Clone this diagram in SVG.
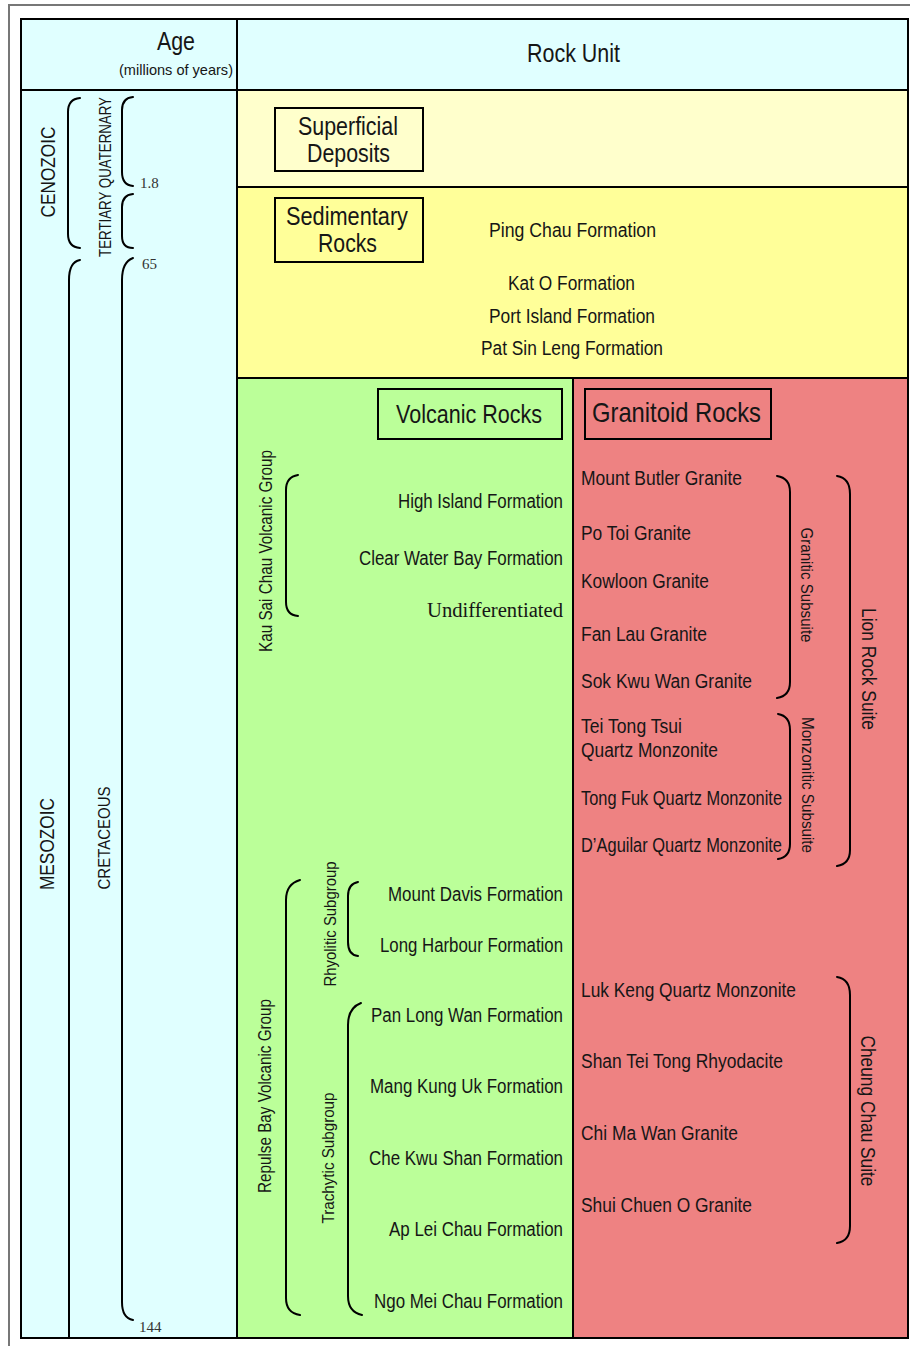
<svg xmlns="http://www.w3.org/2000/svg" width="910" height="1346" viewBox="0 0 910 1346">
<style>
.t{font-family:"Liberation Sans Narrow","Liberation Sans",Arial,sans-serif;font-stretch:condensed;fill:#161616;}
.s{font-family:"Liberation Serif","Times New Roman",serif;fill:#333;}
.grid{stroke:#000;stroke-width:2;fill:none;}
.box{stroke:#000;stroke-width:2;fill:none;}
.br{stroke:#000;stroke-width:2;fill:none;stroke-linecap:round;}
</style>
<rect x="0" y="0" width="910" height="1346" fill="#fff"/>
<path d="M9,1346 V5 H910" stroke="#777" stroke-width="2" fill="none"/>

<g id="backgrounds">
<rect x="21" y="19" width="887" height="71" fill="#E0FFFF"/>
<rect x="21" y="90" width="216" height="1248" fill="#E0FFFF"/>
<rect x="237" y="90" width="671" height="97" fill="#FFFFCC"/>
<rect x="237" y="187" width="671" height="191" fill="#FFFF99"/>
<rect x="237" y="378" width="336" height="960" fill="#BBFF99"/>
<rect x="573" y="378" width="335" height="960" fill="#EE8282"/>
</g>

<g id="grid">
<rect class="grid" x="21" y="19" width="887" height="1319"/>
<line class="grid" x1="21" y1="90" x2="908" y2="90"/>
<line class="grid" x1="237" y1="19" x2="237" y2="1338"/>
<line class="grid" x1="237" y1="187" x2="908" y2="187"/>
<line class="grid" x1="237" y1="378" x2="908" y2="378"/>
<line class="grid" x1="573" y1="378" x2="573" y2="1338"/>
</g>

<g id="header">
<text class="t" x="157" y="50" font-size="25" textLength="38" lengthAdjust="spacingAndGlyphs">Age</text>
<text class="t" x="119" y="75" font-size="15" textLength="114" lengthAdjust="spacingAndGlyphs">(millions of years)</text>
<text class="t" x="527" y="62" font-size="25" textLength="93" lengthAdjust="spacingAndGlyphs">Rock Unit</text>
</g>

<g id="age-scale">
<text class="t" transform="translate(48,172) rotate(-90)" x="0" y="7" font-size="20" text-anchor="middle" textLength="91" lengthAdjust="spacingAndGlyphs">CENOZOIC</text>
<text class="t" transform="translate(105,177) rotate(-90)" x="0" y="6" font-size="17" text-anchor="middle" textLength="160" lengthAdjust="spacingAndGlyphs">TERTIARY QUATERNARY</text>
<text class="t" transform="translate(47,844) rotate(-90)" x="0" y="7" font-size="20" text-anchor="middle" textLength="92" lengthAdjust="spacingAndGlyphs">MESOZOIC</text>
<text class="t" transform="translate(104,838) rotate(-90)" x="0" y="6" font-size="17" text-anchor="middle" textLength="103" lengthAdjust="spacingAndGlyphs">CRETACEOUS</text>
<text class="s" x="140" y="188" font-size="15">1.8</text>
<text class="s" x="142" y="269" font-size="15">65</text>
<text class="s" x="139" y="1332" font-size="15">144</text>
</g>

<g id="superficial-deposits">
<rect class="box" x="275" y="108" width="148" height="63"/>
<text class="t" x="298" y="135" font-size="25" textLength="100" lengthAdjust="spacingAndGlyphs">Superficial</text>
<text class="t" x="307" y="162" font-size="25" textLength="83" lengthAdjust="spacingAndGlyphs">Deposits</text>
</g>

<g id="sedimentary-rocks">
<rect class="box" x="275" y="198" width="148" height="64"/>
<text class="t" x="286" y="225" font-size="25" textLength="122" lengthAdjust="spacingAndGlyphs">Sedimentary</text>
<text class="t" x="318" y="252" font-size="25" textLength="59" lengthAdjust="spacingAndGlyphs">Rocks</text>
<text class="t" x="489" y="237" font-size="20" textLength="167" lengthAdjust="spacingAndGlyphs">Ping Chau Formation</text>
<text class="t" x="508" y="290" font-size="20" textLength="127" lengthAdjust="spacingAndGlyphs">Kat O Formation</text>
<text class="t" x="489" y="323" font-size="20" textLength="166" lengthAdjust="spacingAndGlyphs">Port Island Formation</text>
<text class="t" x="481" y="355" font-size="20" textLength="182" lengthAdjust="spacingAndGlyphs">Pat Sin Leng Formation</text>
</g>

<g id="volcanic-rocks">
<rect class="box" x="378" y="389" width="184" height="50"/>
<text class="t" x="396" y="423" font-size="26" textLength="146" lengthAdjust="spacingAndGlyphs">Volcanic Rocks</text>
<text class="t" transform="translate(266,551) rotate(-90)" x="0" y="6" font-size="18" text-anchor="middle" textLength="202" lengthAdjust="spacingAndGlyphs">Kau Sai Chau Volcanic Group</text>
<text class="t" x="398" y="508" font-size="20" textLength="165" lengthAdjust="spacingAndGlyphs">High Island Formation</text>
<text class="t" x="359" y="565" font-size="20" textLength="204" lengthAdjust="spacingAndGlyphs">Clear Water Bay Formation</text>
<text class="s" x="427" y="617" font-size="20" fill="#161616" style="fill:#161616" textLength="136" lengthAdjust="spacingAndGlyphs">Undifferentiated</text>
<text class="t" transform="translate(265,1096) rotate(-90)" x="0" y="6" font-size="18" text-anchor="middle" textLength="194" lengthAdjust="spacingAndGlyphs">Repulse Bay Volcanic Group</text>
<text class="t" transform="translate(330,924) rotate(-90)" x="0" y="6" font-size="17" text-anchor="middle" textLength="125" lengthAdjust="spacingAndGlyphs">Rhyolitic Subgroup</text>
<text class="t" transform="translate(328,1158) rotate(-90)" x="0" y="6" font-size="17" text-anchor="middle" textLength="131" lengthAdjust="spacingAndGlyphs">Trachytic Subgroup</text>
<text class="t" x="388" y="901" font-size="20" textLength="175" lengthAdjust="spacingAndGlyphs">Mount Davis Formation</text>
<text class="t" x="380" y="952" font-size="20" textLength="183" lengthAdjust="spacingAndGlyphs">Long Harbour Formation</text>
<text class="t" x="371" y="1022" font-size="20" textLength="192" lengthAdjust="spacingAndGlyphs">Pan Long Wan Formation</text>
<text class="t" x="370" y="1093" font-size="20" textLength="193" lengthAdjust="spacingAndGlyphs">Mang Kung Uk Formation</text>
<text class="t" x="369" y="1165" font-size="20" textLength="194" lengthAdjust="spacingAndGlyphs">Che Kwu Shan Formation</text>
<text class="t" x="389" y="1236" font-size="20" textLength="174" lengthAdjust="spacingAndGlyphs">Ap Lei Chau Formation</text>
<text class="t" x="374" y="1308" font-size="20" textLength="189" lengthAdjust="spacingAndGlyphs">Ngo Mei Chau Formation</text>
</g>

<g id="granitoid-rocks">
<rect class="box" x="585" y="389" width="186" height="50"/>
<text class="t" x="592" y="422" font-size="28" textLength="169" lengthAdjust="spacingAndGlyphs">Granitoid Rocks</text>
<text class="t" x="581" y="485" font-size="20" textLength="161" lengthAdjust="spacingAndGlyphs">Mount Butler Granite</text>
<text class="t" x="581" y="540" font-size="20" textLength="110" lengthAdjust="spacingAndGlyphs">Po Toi Granite</text>
<text class="t" x="581" y="588" font-size="20" textLength="128" lengthAdjust="spacingAndGlyphs">Kowloon Granite</text>
<text class="t" x="581" y="641" font-size="20" textLength="126" lengthAdjust="spacingAndGlyphs">Fan Lau Granite</text>
<text class="t" x="581" y="688" font-size="20" textLength="171" lengthAdjust="spacingAndGlyphs">Sok Kwu Wan Granite</text>
<text class="t" x="581" y="733" font-size="20" textLength="101" lengthAdjust="spacingAndGlyphs">Tei Tong Tsui</text>
<text class="t" x="581" y="757" font-size="20" textLength="137" lengthAdjust="spacingAndGlyphs">Quartz Monzonite</text>
<text class="t" x="581" y="805" font-size="20" textLength="201" lengthAdjust="spacingAndGlyphs">Tong Fuk Quartz Monzonite</text>
<text class="t" x="581" y="852" font-size="20" textLength="201" lengthAdjust="spacingAndGlyphs">D’Aguilar Quartz Monzonite</text>
<text class="t" x="581" y="997" font-size="20" textLength="215" lengthAdjust="spacingAndGlyphs">Luk Keng Quartz Monzonite</text>
<text class="t" x="581" y="1068" font-size="20" textLength="202" lengthAdjust="spacingAndGlyphs">Shan Tei Tong Rhyodacite</text>
<text class="t" x="581" y="1140" font-size="20" textLength="157" lengthAdjust="spacingAndGlyphs">Chi Ma Wan Granite</text>
<text class="t" x="581" y="1212" font-size="20" textLength="171" lengthAdjust="spacingAndGlyphs">Shui Chuen O Granite</text>
<text class="t" transform="translate(807,585) rotate(90)" x="0" y="6" font-size="17" text-anchor="middle" textLength="115" lengthAdjust="spacingAndGlyphs">Granitic Subsuite</text>
<text class="t" transform="translate(808,785) rotate(90)" x="0" y="6" font-size="17" text-anchor="middle" textLength="136" lengthAdjust="spacingAndGlyphs">Monzonitic Subsuite</text>
<text class="t" transform="translate(869,669) rotate(90)" x="0" y="7" font-size="20" text-anchor="middle" textLength="122" lengthAdjust="spacingAndGlyphs">Lion Rock Suite</text>
<text class="t" transform="translate(868,1111) rotate(90)" x="0" y="7" font-size="20" text-anchor="middle" textLength="151" lengthAdjust="spacingAndGlyphs">Cheung Chau Suite</text>
</g>

<g id="connectors">
<path class="br" d="M80,98 Q68,99 68,112 L68,234 Q68,247 80,248"/>
<path class="br" d="M133,97 Q122,98 122,110 L122,172 Q122,185 133,186"/>
<path class="br" d="M133,194 Q122,195 122,207 L122,236 Q122,248 133,248"/>
<path class="br" d="M80,260 Q69,262 69,280 L69,1338"/>
<path class="br" d="M133,258 Q122,262 122,280 L122,1302 Q122,1318 133,1320"/>
<path class="br" d="M298,475 Q286,477 286,490 L286,602 Q286,615 298,616"/>
<path class="br" d="M300,880 Q286,884 286,900 L286,1298 Q286,1313 300,1315"/>
<path class="br" d="M358,882 Q348,884 348,896 L348,942 Q348,955 358,956"/>
<path class="br" d="M361,1003 Q348,1008 348,1025 L348,1296 Q348,1312 362,1315"/>
<path class="br" d="M777,476 Q790,478 790,492 L790,682 Q790,696 777,698"/>
<path class="br" d="M837,476 Q850,478 850,494 L850,850 Q850,864 837,866"/>
<path class="br" d="M778,714 Q790,716 790,730 L790,844 Q790,857 778,859"/>
<path class="br" d="M837,977 Q850,979 850,995 L850,1226 Q850,1241 837,1243"/>
</g>
</svg>
